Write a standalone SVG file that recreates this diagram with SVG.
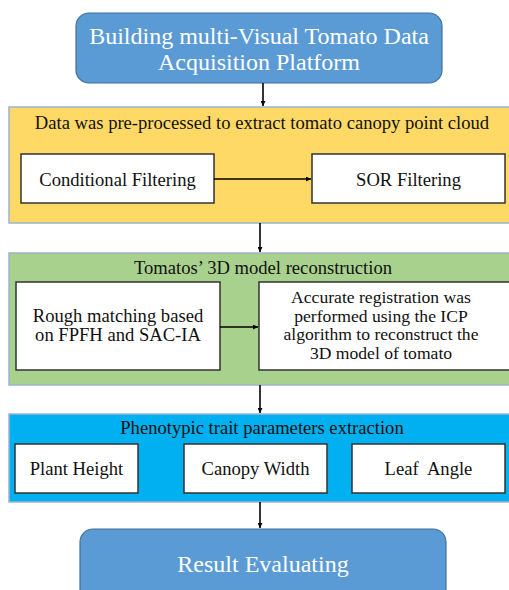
<svg xmlns="http://www.w3.org/2000/svg" width="509" height="590" viewBox="0 0 509 590">
<defs>
<marker id="ah" viewBox="0 0 10 10" refX="10" refY="5" markerWidth="5" markerHeight="5" orient="auto" markerUnits="userSpaceOnUse"><path d="M0,0 L10,5 L0,10 z" fill="#000"/></marker>
<style>
.rb{fill:#5B9BD5;stroke:#41719C;stroke-width:1.2}
.panel{stroke:#9DB3CE;stroke-width:1.5}
.wb{fill:#fff;stroke:#333;stroke-width:1.5}
.t{font-family:"Liberation Serif","Times New Roman",serif;fill:#111;text-anchor:middle;font-size:18.6px}
.s{font-size:17.6px}
.tw{font-family:"Liberation Serif","Times New Roman",serif;fill:#fff;text-anchor:middle;font-size:24px}
.c{stroke:#000;stroke-width:1.6;fill:none;marker-end:url(#ah)}
</style>
</defs>
<g id="start">
<rect class="rb" x="76" y="13" width="366" height="70" rx="13"/>
<text class="tw" x="259" y="44">Building multi-Visual Tomato Data</text>
<text class="tw" x="259" y="70">Acquisition Platform</text>
</g>
<g id="preprocess">
<rect class="panel" x="9" y="107" width="503" height="116" fill="#FFD966"/>
<text class="t" x="262" y="129">Data was pre-processed to extract tomato canopy point cloud</text>
</g>
<g id="cond">
<rect class="wb" x="21" y="154" width="193" height="49"/>
<text class="t" x="117.5" y="186">Conditional Filtering</text>
</g>
<g id="sor">
<rect class="wb" x="312" y="154" width="193" height="49"/>
<text class="t" x="408.5" y="186">SOR Filtering</text>
</g>
<g id="recon">
<rect class="panel" x="9" y="253" width="503" height="132" fill="#A9D18E"/>
<text class="t" x="263" y="274">Tomatos’ 3D model reconstruction</text>
</g>
<g id="rough">
<rect class="wb" x="16" y="282" width="204" height="88"/>
<text class="t" x="118" y="322">Rough matching based</text>
<text class="t" x="118" y="341">on FPFH and SAC-IA</text>
</g>
<g id="accurate">
<rect class="wb" x="259" y="282" width="252" height="88"/>
<text class="t s" x="381" y="303">Accurate registration was</text>
<text class="t s" x="381" y="321.5">performed using the ICP</text>
<text class="t s" x="381" y="340">algorithm to reconstruct the</text>
<text class="t s" x="381" y="358.5">3D model of tomato</text>
</g>
<g id="pheno">
<rect class="panel" x="9" y="414" width="503" height="88" fill="#00B0F0"/>
<text class="t" x="262" y="434">Phenotypic trait parameters extraction</text>
</g>
<g id="height">
<rect class="wb" x="15" y="444" width="123" height="49"/>
<text class="t" x="76.5" y="475">Plant Height</text>
</g>
<g id="width">
<rect class="wb" x="184" y="444" width="143" height="49"/>
<text class="t" x="255.5" y="475">Canopy Width</text>
</g>
<g id="angle">
<rect class="wb" x="352" y="444" width="153" height="49"/>
<text class="t" x="428.5" y="475">Leaf&#160; Angle</text>
</g>
<g id="result">
<rect class="rb" x="80" y="529" width="366" height="80" rx="13"/>
<text class="tw" x="263" y="572">Result Evaluating</text>
</g>
<g id="connectors">
<path class="c" d="M263,83 V106"/>
<path class="c" d="M214,179 H311"/>
<path class="c" d="M260,223 V252"/>
<path class="c" d="M220,327 H258"/>
<path class="c" d="M260,385 V413"/>
<path class="c" d="M260,502 V528"/>
</g>
</svg>
